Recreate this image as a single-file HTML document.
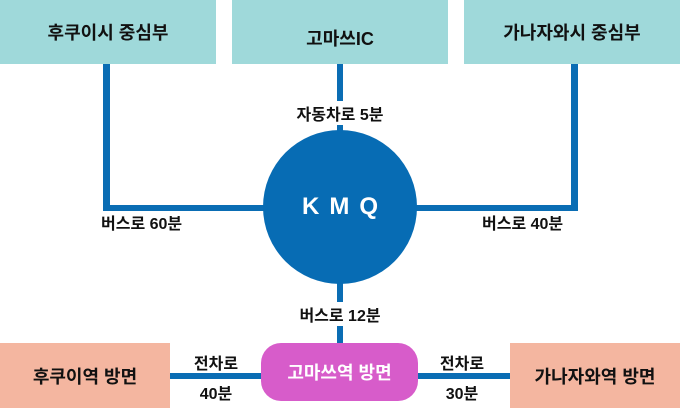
<!DOCTYPE html>
<html><head><meta charset="utf-8"><style>
body{margin:0;width:680px;height:408px;background:#fff;position:relative;overflow:hidden;font-family:"Liberation Sans","Noto Sans CJK KR",sans-serif;color:#111;}
div{position:absolute;box-sizing:border-box;}
.tb{background:#9fd9da;top:0;height:64px;display:flex;align-items:center;justify-content:center;font-size:18px;font-weight:bold;}
.ln{background:#0a6db4;}
.lb{font-size:16px;font-weight:bold;white-space:nowrap;text-align:center;}
.sb{background:#f4b6a0;top:343px;height:65px;display:flex;align-items:center;justify-content:center;font-size:18px;font-weight:bold;}
</style></head><body>
<div class="tb" style="left:0;width:216px;">후쿠이시 중심부</div>
<div class="tb" style="left:232px;width:216px;padding-top:12px;">고마쓰IC</div>
<div class="tb" style="left:464px;width:216px;">가나자와시 중심부</div>

<div class="ln" style="left:103px;top:64px;width:7px;height:147px;"></div>
<div class="ln" style="left:103px;top:205px;width:237px;height:6px;"></div>
<div class="ln" style="left:571px;top:64px;width:7px;height:147px;"></div>
<div class="ln" style="left:340px;top:205px;width:238px;height:6px;"></div>
<div class="ln" style="left:337px;top:64px;width:6px;height:290px;"></div>
<div class="ln" style="left:170px;top:373px;width:345px;height:6px;"></div>

<div style="left:263px;top:130px;width:154px;height:154px;border-radius:50%;background:#076cb4;color:#fff;font-size:24px;font-weight:bold;letter-spacing:10px;display:flex;align-items:center;justify-content:center;padding-left:10px;">KMQ</div>

<div class="lb" style="left:280px;top:101px;width:120px;background:#fff;">자동차로 5분</div>
<div class="lb" style="left:101px;top:210px;">버스로 60분</div>
<div class="lb" style="left:482px;top:210px;">버스로 40분</div>
<div class="lb" style="left:280px;top:302px;width:120px;background:#fff;">버스로 12분</div>
<div class="lb" style="left:186px;top:350px;width:60px;">전차로</div>
<div class="lb" style="left:186px;top:380px;width:60px;">40분</div>
<div class="lb" style="left:432px;top:350px;width:60px;">전차로</div>
<div class="lb" style="left:432px;top:380px;width:60px;">30분</div>

<div class="sb" style="left:0;width:170px;">후쿠이역 방면</div>
<div class="sb" style="left:510px;width:170px;">가나자와역 방면</div>
<div style="left:261px;top:343px;width:157px;height:58px;border-radius:20px;background:#d75cca;color:#fff;font-size:18px;font-weight:bold;display:flex;align-items:center;justify-content:center;">고마쓰역 방면</div>
</body></html>
